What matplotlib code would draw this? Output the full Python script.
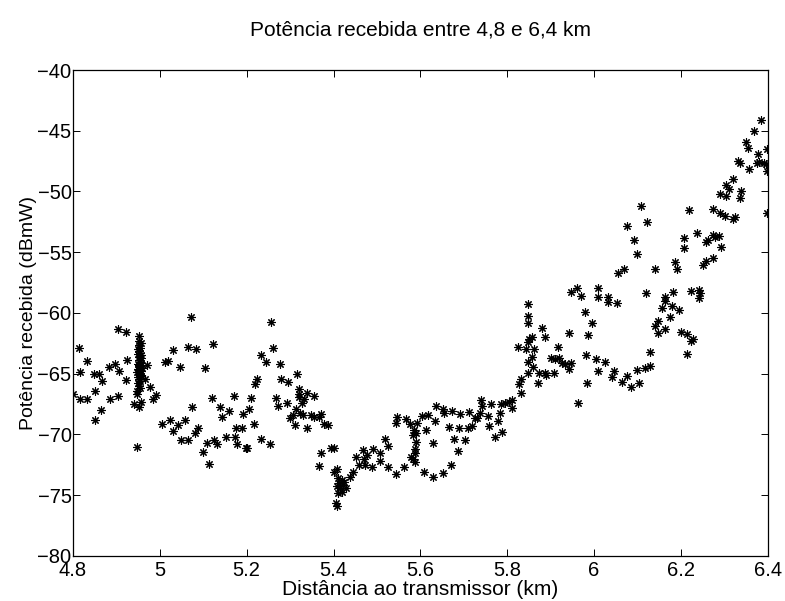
import matplotlib
matplotlib.use('Agg')
import matplotlib.pyplot as plt

plt.rcParams['font.family'] = ['Liberation Sans', 'DejaVu Sans']

# distance to transmitter (km) and received power (dBmW)
dist_km = [
    # 4.8 - 5.0
    4.903, 4.923, 4.813, 4.832, 4.924, 4.815, 4.848, 4.860, 4.882, 4.896,
    4.907, 4.867, 4.923, 4.800, 4.815, 4.833, 4.850, 4.885, 4.904, 4.864,
    4.850, 4.948, 4.970, 4.966, 4.977, 4.991, 4.985, 4.954, 4.947, 4.957,
    4.940, 4.951,
    # dense cluster near 4.95 km
    4.952, 4.953, 4.951, 4.954, 4.952, 4.955, 4.950, 4.953, 4.956, 4.951,
    4.954, 4.957, 4.949, 4.952, 4.955, 4.958, 4.950, 4.953, 4.956, 4.948,
    4.951, 4.954, 4.957, 4.949, 4.952, 4.955, 4.950, 4.953, 4.948, 4.956,
    4.950, 4.957,
    # 5.0 - 5.2
    5.072, 5.030, 5.065, 5.084, 5.122, 5.012, 5.019, 5.047, 5.104, 5.121,
    5.171, 5.074, 5.138, 5.159, 5.142, 5.191, 5.006, 5.023, 5.041, 5.057,
    5.030, 5.089, 5.082, 5.049, 5.065, 5.108, 5.124, 5.132, 5.152, 5.173,
    5.190, 5.175, 5.178, 5.198, 5.099, 5.114,
    # 5.2 - 5.4
    5.255, 5.261, 5.232, 5.244, 5.277, 5.315, 5.223, 5.219, 5.279, 5.296,
    5.321, 5.321, 5.321, 5.339, 5.354, 5.332, 5.328, 5.211, 5.267, 5.271,
    5.292, 5.206, 5.313, 5.307, 5.300, 5.323, 5.330, 5.349, 5.355, 5.366,
    5.371, 5.311, 5.338, 5.379, 5.388, 5.217, 5.234, 5.253, 5.200, 5.372,
    5.394, 5.402, 5.366, 5.407,
    # 5.4 - 5.6
    5.547, 5.545, 5.567, 5.576, 5.593, 5.586, 5.590, 5.583, 5.589, 5.587,
    5.587, 5.578, 5.583, 5.587, 5.563, 5.544, 5.526, 5.518, 5.526, 5.507,
    5.508, 5.491, 5.468, 5.476, 5.471, 5.452, 5.459, 5.473, 5.488, 5.444,
    5.439, 5.402, 5.411, 5.419, 5.413, 5.422, 5.407, 5.415, 5.428, 5.419,
    5.411, 5.425, 5.405, 5.407,
    # 5.6 - 5.8
    5.603, 5.618, 5.636, 5.651, 5.654, 5.674, 5.692, 5.712, 5.739, 5.741,
    5.737, 5.725, 5.731, 5.756, 5.762, 5.785, 5.794, 5.804, 5.812, 5.810,
    5.783, 5.779, 5.789, 5.771, 5.758, 5.720, 5.709, 5.688, 5.666, 5.633,
    5.614, 5.678, 5.702, 5.628, 5.686, 5.670, 5.608, 5.629, 5.652,
    # 5.8 - 6.0
    5.847, 5.848, 5.847, 5.880, 5.887, 5.856, 5.850, 5.847, 5.825, 5.843,
    5.862, 5.857, 5.847, 5.860, 5.847, 5.873, 5.888, 5.890, 5.908, 5.870,
    5.831, 5.827, 5.831, 5.916, 5.900, 5.910, 5.919, 5.926, 5.933, 5.948,
    5.942, 5.943, 5.948, 5.960, 5.969, 5.979, 5.995, 5.986, 5.981, 6.004,
    6.009, 5.984, 5.963, 6.008, 6.009,
    # 6.0 - 6.2
    6.108, 6.123, 6.077, 6.091, 6.099, 6.069, 6.055, 6.140, 6.218, 6.207,
    6.207, 6.186, 6.190, 6.032, 6.032, 6.052, 6.119, 6.164, 6.164, 6.157,
    6.182, 6.180, 6.196, 6.174, 6.147, 6.140, 6.147, 6.163, 6.200, 6.213,
    6.214, 6.025, 6.046, 6.042, 6.065, 6.084, 6.076, 6.103, 6.099, 6.117,
    6.128, 6.130,
    # 6.2 - 6.4
    6.384, 6.368, 6.398, 6.351, 6.355, 6.378, 6.332, 6.335, 6.356, 6.375,
    6.381, 6.391, 6.395, 6.398, 6.319, 6.303, 6.311, 6.305, 6.289, 6.339,
    6.335, 6.274, 6.291, 6.301, 6.319, 6.324, 6.398, 6.236, 6.257, 6.263,
    6.274, 6.278, 6.288, 6.292, 6.250, 6.257, 6.274, 6.223, 6.242, 6.243,
    6.241, 6.224, 6.228,
]

power_dbm = [
    # 4.8 - 5.0
    -61.34, -61.59, -62.86, -63.98, -63.89, -64.83, -65.05, -65.05, -64.42, -64.20,
    -64.77, -65.62, -65.49, -66.64, -67.08, -67.08, -66.40, -67.08, -66.86, -68.01,
    -68.81, -71.03, -64.30, -65.46, -66.07, -66.75, -67.10, -66.17, -66.69, -67.30,
    -67.51, -67.76,
    # dense cluster near 4.95 km
    -61.9, -62.3, -62.6, -62.9, -63.1, -63.3, -63.4, -63.6, -63.7, -63.9,
    -64.0, -64.1, -64.2, -64.3, -64.4, -64.5, -64.6, -64.7, -64.8, -64.9,
    -65.0, -65.1, -65.2, -65.3, -65.4, -65.6, -65.8, -66.0, -66.4, -62.5,
    -63.0, -63.5,
    # 5.0 - 5.2
    -60.36, -63.05, -62.82, -62.99, -62.58, -64.06, -63.98, -64.42, -64.50, -67.02,
    -66.81, -67.71, -67.71, -68.07, -68.53, -68.31, -69.16, -68.81, -69.24, -68.81,
    -69.71, -69.44, -69.85, -70.48, -70.48, -70.73, -70.48, -70.78, -70.23, -70.23,
    -69.49, -69.49, -70.78, -71.14, -71.41, -72.43,
    # 5.2 - 5.4
    -60.74, -62.86, -63.48, -64.06, -64.20, -65.02, -65.46, -65.84, -65.46, -65.68,
    -66.28, -66.67, -66.89, -66.56, -66.81, -67.10, -67.43, -67.02, -67.02, -67.65,
    -67.43, -67.87, -67.93, -68.40, -68.67, -68.26, -68.40, -68.40, -68.53, -68.59,
    -68.34, -69.22, -69.44, -69.16, -69.24, -69.16, -70.40, -70.81, -71.08, -71.55,
    -71.08, -71.08, -72.57, -72.84,
    # 5.4 - 5.6
    -68.53, -69.08, -68.75, -69.16, -69.03, -69.63, -69.85, -70.04, -70.59, -71.22,
    -71.50, -71.83, -72.04, -72.24, -72.70, -73.28, -72.70, -70.40, -70.92, -71.55,
    -72.18, -71.19, -71.28, -71.69, -72.02, -71.88, -72.51, -72.51, -72.65, -73.06,
    -73.47, -73.06, -73.61, -73.74, -74.02, -74.16, -74.24, -74.43, -74.43, -74.71,
    -74.84, -73.90, -75.66, -75.88,
    # 5.6 - 5.8
    -68.48, -68.40, -67.65, -67.93, -68.21, -68.07, -68.31, -68.17, -67.16, -67.65,
    -68.21, -68.67, -68.67, -68.48, -67.49, -67.49, -67.38, -67.33, -67.16, -67.84,
    -68.21, -68.89, -69.79, -70.18, -69.30, -69.30, -69.49, -69.49, -69.41, -68.86,
    -69.63, -70.40, -70.45, -70.67, -71.33, -72.51, -73.06, -73.47, -73.14,
    # 5.8 - 6.0
    -59.28, -60.25, -60.80, -61.26, -62.00, -61.95, -62.16, -62.36, -62.82, -62.99,
    -62.99, -63.65, -64.00, -64.42, -64.96, -64.91, -64.91, -65.10, -64.96, -65.74,
    -65.46, -65.84, -66.61, -62.82, -63.68, -63.79, -63.68, -64.14, -64.20, -64.09,
    -64.63, -61.67, -58.30, -57.97, -58.58, -59.89, -60.80, -61.81, -63.46, -63.81,
    -64.75, -65.79, -67.43, -57.97, -58.71,
    # 6.0 - 6.2
    -51.17, -52.54, -52.81, -53.99, -55.17, -56.35, -56.73, -56.40, -51.52, -53.83,
    -54.65, -55.80, -56.35, -58.71, -59.07, -59.15, -58.38, -58.71, -58.99, -59.59,
    -58.30, -59.42, -59.73, -60.30, -60.66, -61.07, -61.67, -61.32, -61.54, -61.73,
    -63.40, -64.06, -64.77, -65.24, -65.70, -66.07, -65.19, -65.76, -64.72, -64.55,
    -64.36, -63.18,
    # 6.2 - 6.4
    -44.12, -45.05, -46.53, -45.90, -46.39, -46.91, -47.46, -47.68, -48.15, -47.68,
    -47.55, -47.63, -47.76, -48.29, -49.00, -49.47, -49.82, -50.37, -50.23, -49.93,
    -50.51, -51.47, -51.79, -52.02, -52.24, -52.12, -51.79, -53.39, -54.13, -53.99,
    -53.58, -53.72, -53.66, -54.54, -56.02, -55.69, -55.47, -58.21, -58.11, -58.33,
    -58.77, -62.28, -62.16,
]

x_ticks = [4.8, 5.0, 5.2, 5.4, 5.6, 5.8, 6.0, 6.2, 6.4]
x_ticklabels = ['4.8', '5', '5.2', '5.4', '5.6', '5.8', '6', '6.2', '6.4']
y_ticks = [-80, -75, -70, -65, -60, -55, -50, -45, -40]

fig = plt.figure(figsize=(7.85, 6.01), dpi=100)
ax = fig.add_axes([0.093, 0.075, 0.885, 0.8085])

# MATLAB style '*' marker: 8-spoke asterisk
ax.plot(dist_km, power_dbm, linestyle='none', marker=(8, 2, 0), color='black',
        markersize=6, markeredgewidth=0.8)

ax.set_xlim(4.8, 6.4)
ax.set_ylim(-80, -40)
ax.set_xticks(x_ticks)
ax.set_xticklabels(x_ticklabels)
ax.set_yticks(y_ticks)
ax.tick_params(direction='in', top=True, right=True, length=5, width=0.7,
               labelsize=14.5)
ax.tick_params(axis='x', pad=4)
ax.tick_params(axis='y', pad=1)
for sp in ax.spines.values():
    sp.set_linewidth(0.9)

ax.set_title('Potência recebida entre 4,8 e 6,4 km', fontsize=15, pad=25)
ax.set_xlabel('Distância ao transmissor (km)', fontsize=15, labelpad=0)
ax.set_ylabel('Potência recebida (dBmW)', fontsize=14, labelpad=0)

fig.savefig('out.png', dpi=100)
